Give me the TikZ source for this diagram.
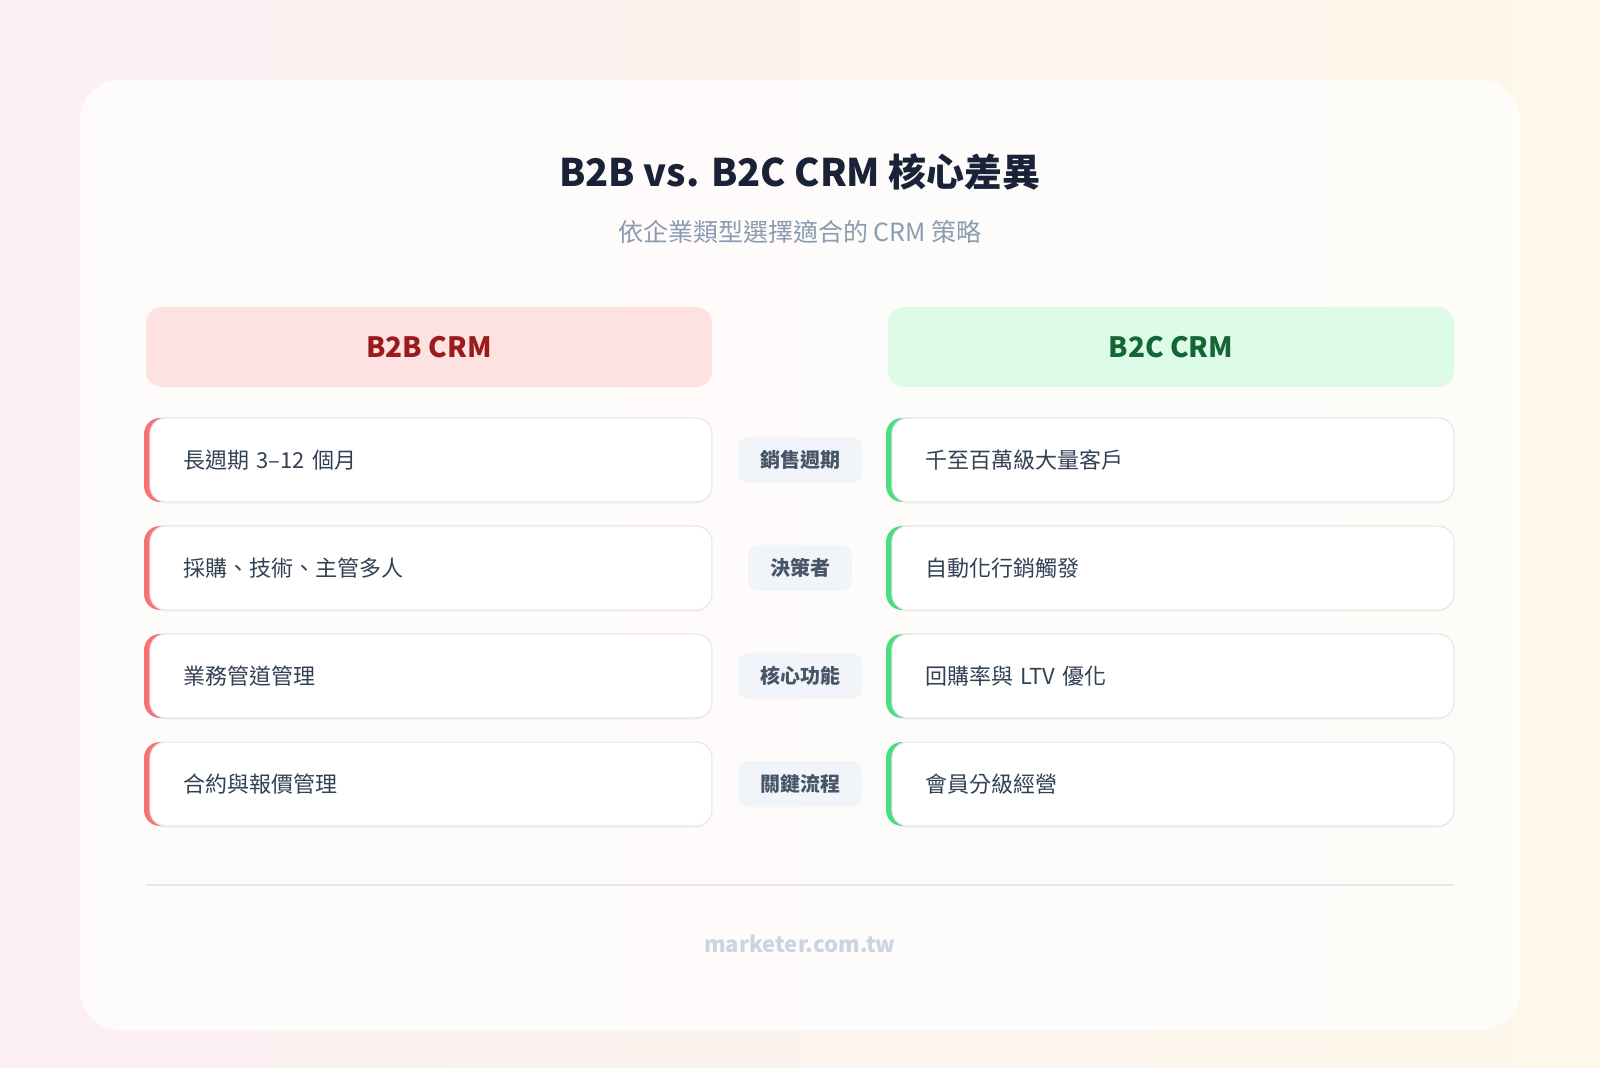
\documentclass[tikz,border=0pt]{standalone}
\usepackage{fontspec}
\setmainfont{Noto Sans CJK TC}
\usetikzlibrary{positioning,shadows}
\definecolor{bgpink}{HTML}{FCEFF3}
\definecolor{bgcream}{HTML}{FDF8EA}
\definecolor{titleink}{HTML}{1A2238}
\definecolor{subink}{HTML}{8A9BB2}
\definecolor{redfill}{HTML}{FEE2E2}
\definecolor{redink}{HTML}{991B1B}
\definecolor{redbar}{HTML}{F87171}
\definecolor{greenfill}{HTML}{DCFCE7}
\definecolor{greenink}{HTML}{166534}
\definecolor{greenbar}{HTML}{4ADE80}
\definecolor{rowink}{HTML}{334155}
\definecolor{pillfill}{HTML}{F1F5F9}
\definecolor{pillink}{HTML}{475569}
\definecolor{rule}{HTML}{E8E8EC}
\definecolor{footink}{HTML}{CBD5E1}
\tikzset{
  head/.style={rounded corners=8pt,minimum width=283pt,minimum height=40pt,font=\fontsize{14}{16}\selectfont\bfseries},
  rowbox/.style={rounded corners=8pt,fill=white,draw=rule,line width=0.6pt,minimum width=281pt,minimum height=42pt,
    text width=248pt,align=left,font=\fontsize{11}{13}\selectfont,text=rowink,
    drop shadow={shadow xshift=0pt,shadow yshift=-1pt,opacity=0.06}},
  rowL/.style={rowbox,preaction={fill=redbar,transform canvas={xshift=-3pt}}},
  rowR/.style={rowbox,preaction={fill=greenbar,transform canvas={xshift=-3pt}}},
  pill/.style={rounded corners=5pt,fill=pillfill,inner xsep=11pt,minimum height=23pt,font=\fontsize{10}{12}\selectfont\bfseries,text=pillink}
}
\begin{document}
\begin{tikzpicture}[x=0.5pt,y=-0.5pt]
\useasboundingbox (0,0) rectangle (1600,1068);
\shade[left color=bgpink,right color=bgcream] (0,0) rectangle (1600,1068);
\fill[white,opacity=0.75,rounded corners=20pt] (80,80) rectangle (1520,1030);

\node[font=\fontsize{19}{22}\selectfont\bfseries,text=titleink] (title) at (800,172) {B2B vs. B2C CRM 核心差異};
\node[font=\fontsize{12.5}{15}\selectfont,text=subink] (sub) at (800,232) {依企業類型選擇適合的 CRM 策略};

\node[head,fill=redfill,text=redink] (b2b) at (429,347) {B2B CRM};
\node[head,fill=greenfill,text=greenink] (b2c) at (1171,347) {B2C CRM};

\node[rowL] (l1) at (431,460) {長週期 3–12 個月};
\node[rowL] (l2) at (431,568) {採購、技術、主管多人};
\node[rowL] (l3) at (431,676) {業務管道管理};
\node[rowL] (l4) at (431,784) {合約與報價管理};

\node[rowR] (r1) at (1173,460) {千至百萬級大量客戶};
\node[rowR] (r2) at (1173,568) {自動化行銷觸發};
\node[rowR] (r3) at (1173,676) {回購率與 LTV 優化};
\node[rowR] (r4) at (1173,784) {會員分級經營};

\node[pill] (m1) at (800,460) {銷售週期};
\node[pill] (m2) at (800,568) {決策者};
\node[pill] (m3) at (800,676) {核心功能};
\node[pill] (m4) at (800,784) {關鍵流程};

\coordinate (ruleL) at (146,885);
\coordinate (ruleR) at (1454,885);
\draw[rule,line width=0.8pt] (ruleL) -- (ruleR);
\node[font=\fontsize{11}{13}\selectfont\bfseries,text=footink] (foot) at (800,944) {marketer.com.tw};
\end{tikzpicture}
\end{document}
